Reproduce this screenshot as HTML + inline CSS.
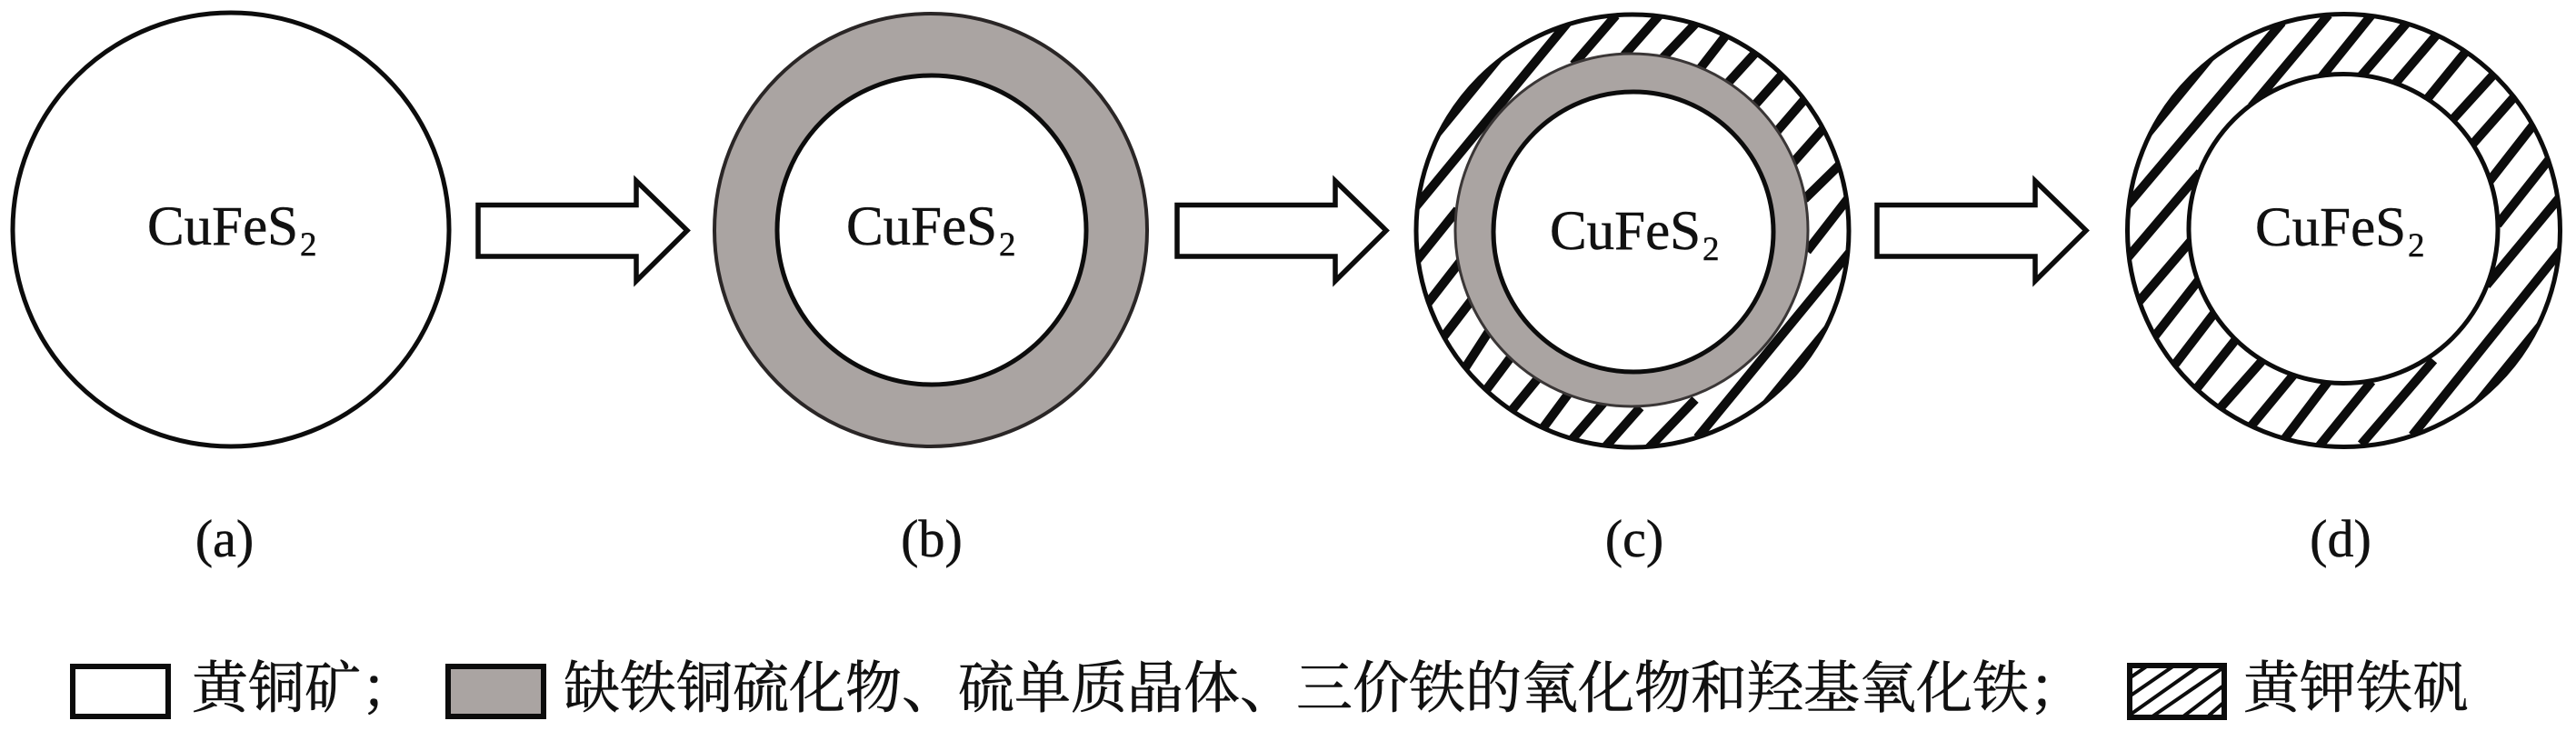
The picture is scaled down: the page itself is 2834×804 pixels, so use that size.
<!DOCTYPE html>
<html lang="zh">
<head>
<meta charset="utf-8">
<title>CuFeS2</title>
<style>
html,body{margin:0;padding:0;background:#fff;width:2834px;height:804px;overflow:hidden}
svg{display:block}
.f{font-family:"Liberation Serif",serif;fill:#111;stroke:#111;stroke-width:.5}
.m{font-size:61px}
.s{font-size:37px}
.l{font-size:58px}
.z{font-family:"Liberation Serif","Noto Serif CJK SC",serif;font-size:62px;fill:#111;stroke:#111;stroke-width:.6}
.h line{stroke:#0c0c0c;stroke-width:10;stroke-linecap:square;vector-effect:non-scaling-stroke}
</style>
</head>
<body>
<svg width="2834" height="804" viewBox="0 0 2834 804" xmlns="http://www.w3.org/2000/svg">
<defs>
<clipPath id="cc"><circle cx="1796" cy="254" r="240"/></clipPath>
<clipPath id="cd"><circle cx="2578.5" cy="253.5" r="240"/></clipPath>
<polygon id="ar" points="526,225.5 700,225.5 700,199 756,253.5 700,309 700,282 526,282" fill="#fff" stroke="#0c0c0c" stroke-width="5.5" stroke-linejoin="miter"/>
</defs>

<!-- a -->
<ellipse cx="254" cy="252.5" rx="240" ry="238.5" fill="#fff" stroke="#0c0c0c" stroke-width="5"/>
<text class="f m" x="162" y="269">CuFeS</text><text class="f s" x="330" y="281">2</text>

<!-- b -->
<circle cx="1024" cy="253" r="238" fill="#aaa4a2" stroke="#2a2626" stroke-width="4"/>
<circle cx="1025" cy="253" r="170" fill="#fff" stroke="#0c0c0c" stroke-width="5"/>
<text class="f m" x="931" y="269">CuFeS</text><text class="f s" x="1099" y="281">2</text>

<!-- c -->
<circle cx="1796" cy="254" r="240" fill="#fff"/>
<g clip-path="url(#cc)">
<g class="h">
<line x1="1936" y1="453" x2="2018" y2="353"/>
<line x1="1574" y1="155" x2="1656" y2="55"/>
</g>
<g class="h" transform="translate(1500,0) scale(0.4464,0.3448)">
<line x1="135" y1="650" x2="495" y2="85"/>
<line x1="135" y1="825" x2="225" y2="680"/><line x1="525" y1="195" x2="615" y2="60"/>
<line x1="160" y1="965" x2="235" y2="840"/><line x1="650" y1="165" x2="725" y2="55"/>
<line x1="200" y1="1070" x2="265" y2="960"/><line x1="745" y1="175" x2="815" y2="80"/>
<line x1="255" y1="1165" x2="305" y2="1065"/><line x1="835" y1="210" x2="895" y2="110"/>
<line x1="305" y1="1240" x2="360" y2="1145"/><line x1="905" y1="255" x2="965" y2="170"/>
<line x1="365" y1="1310" x2="425" y2="1215"/><line x1="975" y1="320" x2="1030" y2="240"/>
<line x1="440" y1="1370" x2="500" y2="1265"/><line x1="1025" y1="410" x2="1085" y2="320"/>
<line x1="515" y1="1400" x2="585" y2="1295"/><line x1="1065" y1="510" x2="1130" y2="415"/>
<line x1="600" y1="1420" x2="675" y2="1310"/><line x1="1095" y1="625" x2="1170" y2="530"/>
<line x1="710" y1="1420" x2="810" y2="1285"/><line x1="1100" y1="790" x2="1190" y2="640"/>
<line x1="830" y1="1385" x2="1195" y2="810"/>
</g>
</g>
<circle cx="1796" cy="254" r="238" fill="none" stroke="#0c0c0c" stroke-width="5"/>
<circle cx="1795" cy="253" r="194" fill="#aaa4a2" stroke="#3a3636" stroke-width="3"/>
<circle cx="1797" cy="255" r="154" fill="#fff" stroke="#0c0c0c" stroke-width="5"/>
<text class="f m" x="1705" y="274">CuFeS</text><text class="f s" x="1873" y="286">2</text>

<!-- d -->
<circle cx="2578.5" cy="253.5" r="240" fill="#fff"/>
<g clip-path="url(#cd)">
<g class="h">
<line x1="2718" y1="453" x2="2800" y2="352"/>
<line x1="2356" y1="155" x2="2439" y2="54"/>
</g>
<g class="h" transform="translate(2300,0) scale(0.3401,0.3333)">
<line x1="125" y1="670" x2="610" y2="85"/>
<line x1="120" y1="850" x2="345" y2="580"/><line x1="530" y1="340" x2="760" y2="60"/>
<line x1="165" y1="985" x2="320" y2="800"/><line x1="750" y1="250" x2="900" y2="60"/>
<line x1="215" y1="1100" x2="345" y2="930"/><line x1="880" y1="245" x2="1015" y2="85"/>
<line x1="275" y1="1200" x2="395" y2="1040"/><line x1="990" y1="270" x2="1115" y2="120"/>
<line x1="345" y1="1280" x2="470" y2="1120"/><line x1="1090" y1="325" x2="1210" y2="175"/>
<line x1="425" y1="1340" x2="555" y2="1190"/><line x1="1175" y1="390" x2="1300" y2="250"/>
<line x1="520" y1="1405" x2="650" y2="1245"/><line x1="1245" y1="465" x2="1370" y2="320"/>
<line x1="630" y1="1445" x2="760" y2="1270"/><line x1="1300" y1="585" x2="1430" y2="415"/>
<line x1="745" y1="1465" x2="900" y2="1270"/><line x1="1325" y1="730" x2="1480" y2="530"/>
<line x1="885" y1="1455" x2="1100" y2="1200"/><line x1="1290" y1="930" x2="1510" y2="660"/>
<line x1="1050" y1="1425" x2="1510" y2="840"/>
</g>
</g>
<circle cx="2578.5" cy="253.5" r="238" fill="none" stroke="#0c0c0c" stroke-width="5"/>
<circle cx="2578" cy="251.5" r="170" fill="#fff" stroke="#0c0c0c" stroke-width="5"/>
<text class="f m" x="2481" y="270">CuFeS</text><text class="f s" x="2649" y="282">2</text>

<!-- arrows -->
<use href="#ar"/>
<use href="#ar" x="769"/>
<use href="#ar" x="1539"/>

<!-- labels -->
<text class="f l" x="247" y="612" text-anchor="middle">(a)</text>
<text class="f l" x="1025" y="612" text-anchor="middle">(b)</text>
<text class="f l" x="1798" y="612" text-anchor="middle">(c)</text>
<text class="f l" x="2575" y="612" text-anchor="middle">(d)</text>

<!-- legend -->
<rect x="80" y="733" width="105" height="55" fill="#fff" stroke="#0c0c0c" stroke-width="6"/>
<text class="z" x="211" y="778">黄铜矿；</text>

<rect x="493" y="733" width="105" height="55" fill="#aaa4a2" stroke="#0c0c0c" stroke-width="6"/>
<text class="z" x="620" y="778">缺铁铜硫化物、硫单质晶体、三价铁的氧化物和羟基氧化铁；</text>

<rect x="2343" y="732" width="104" height="57" fill="#fff"/>
<g stroke="#0c0c0c" stroke-width="4">
<line x1="2344" y1="745" x2="2363" y2="732"/>
<line x1="2344" y1="765" x2="2392" y2="732"/>
<line x1="2345" y1="785" x2="2420" y2="732"/>
<line x1="2368" y1="788" x2="2445" y2="735"/>
<line x1="2402" y1="788" x2="2445" y2="755"/>
<line x1="2430" y1="787" x2="2446" y2="773"/>
</g>
<rect x="2343" y="732" width="104" height="57" fill="none" stroke="#0c0c0c" stroke-width="6"/>
<text class="z" x="2468" y="778">黄钾铁矾</text>
</svg>
</body>
</html>
